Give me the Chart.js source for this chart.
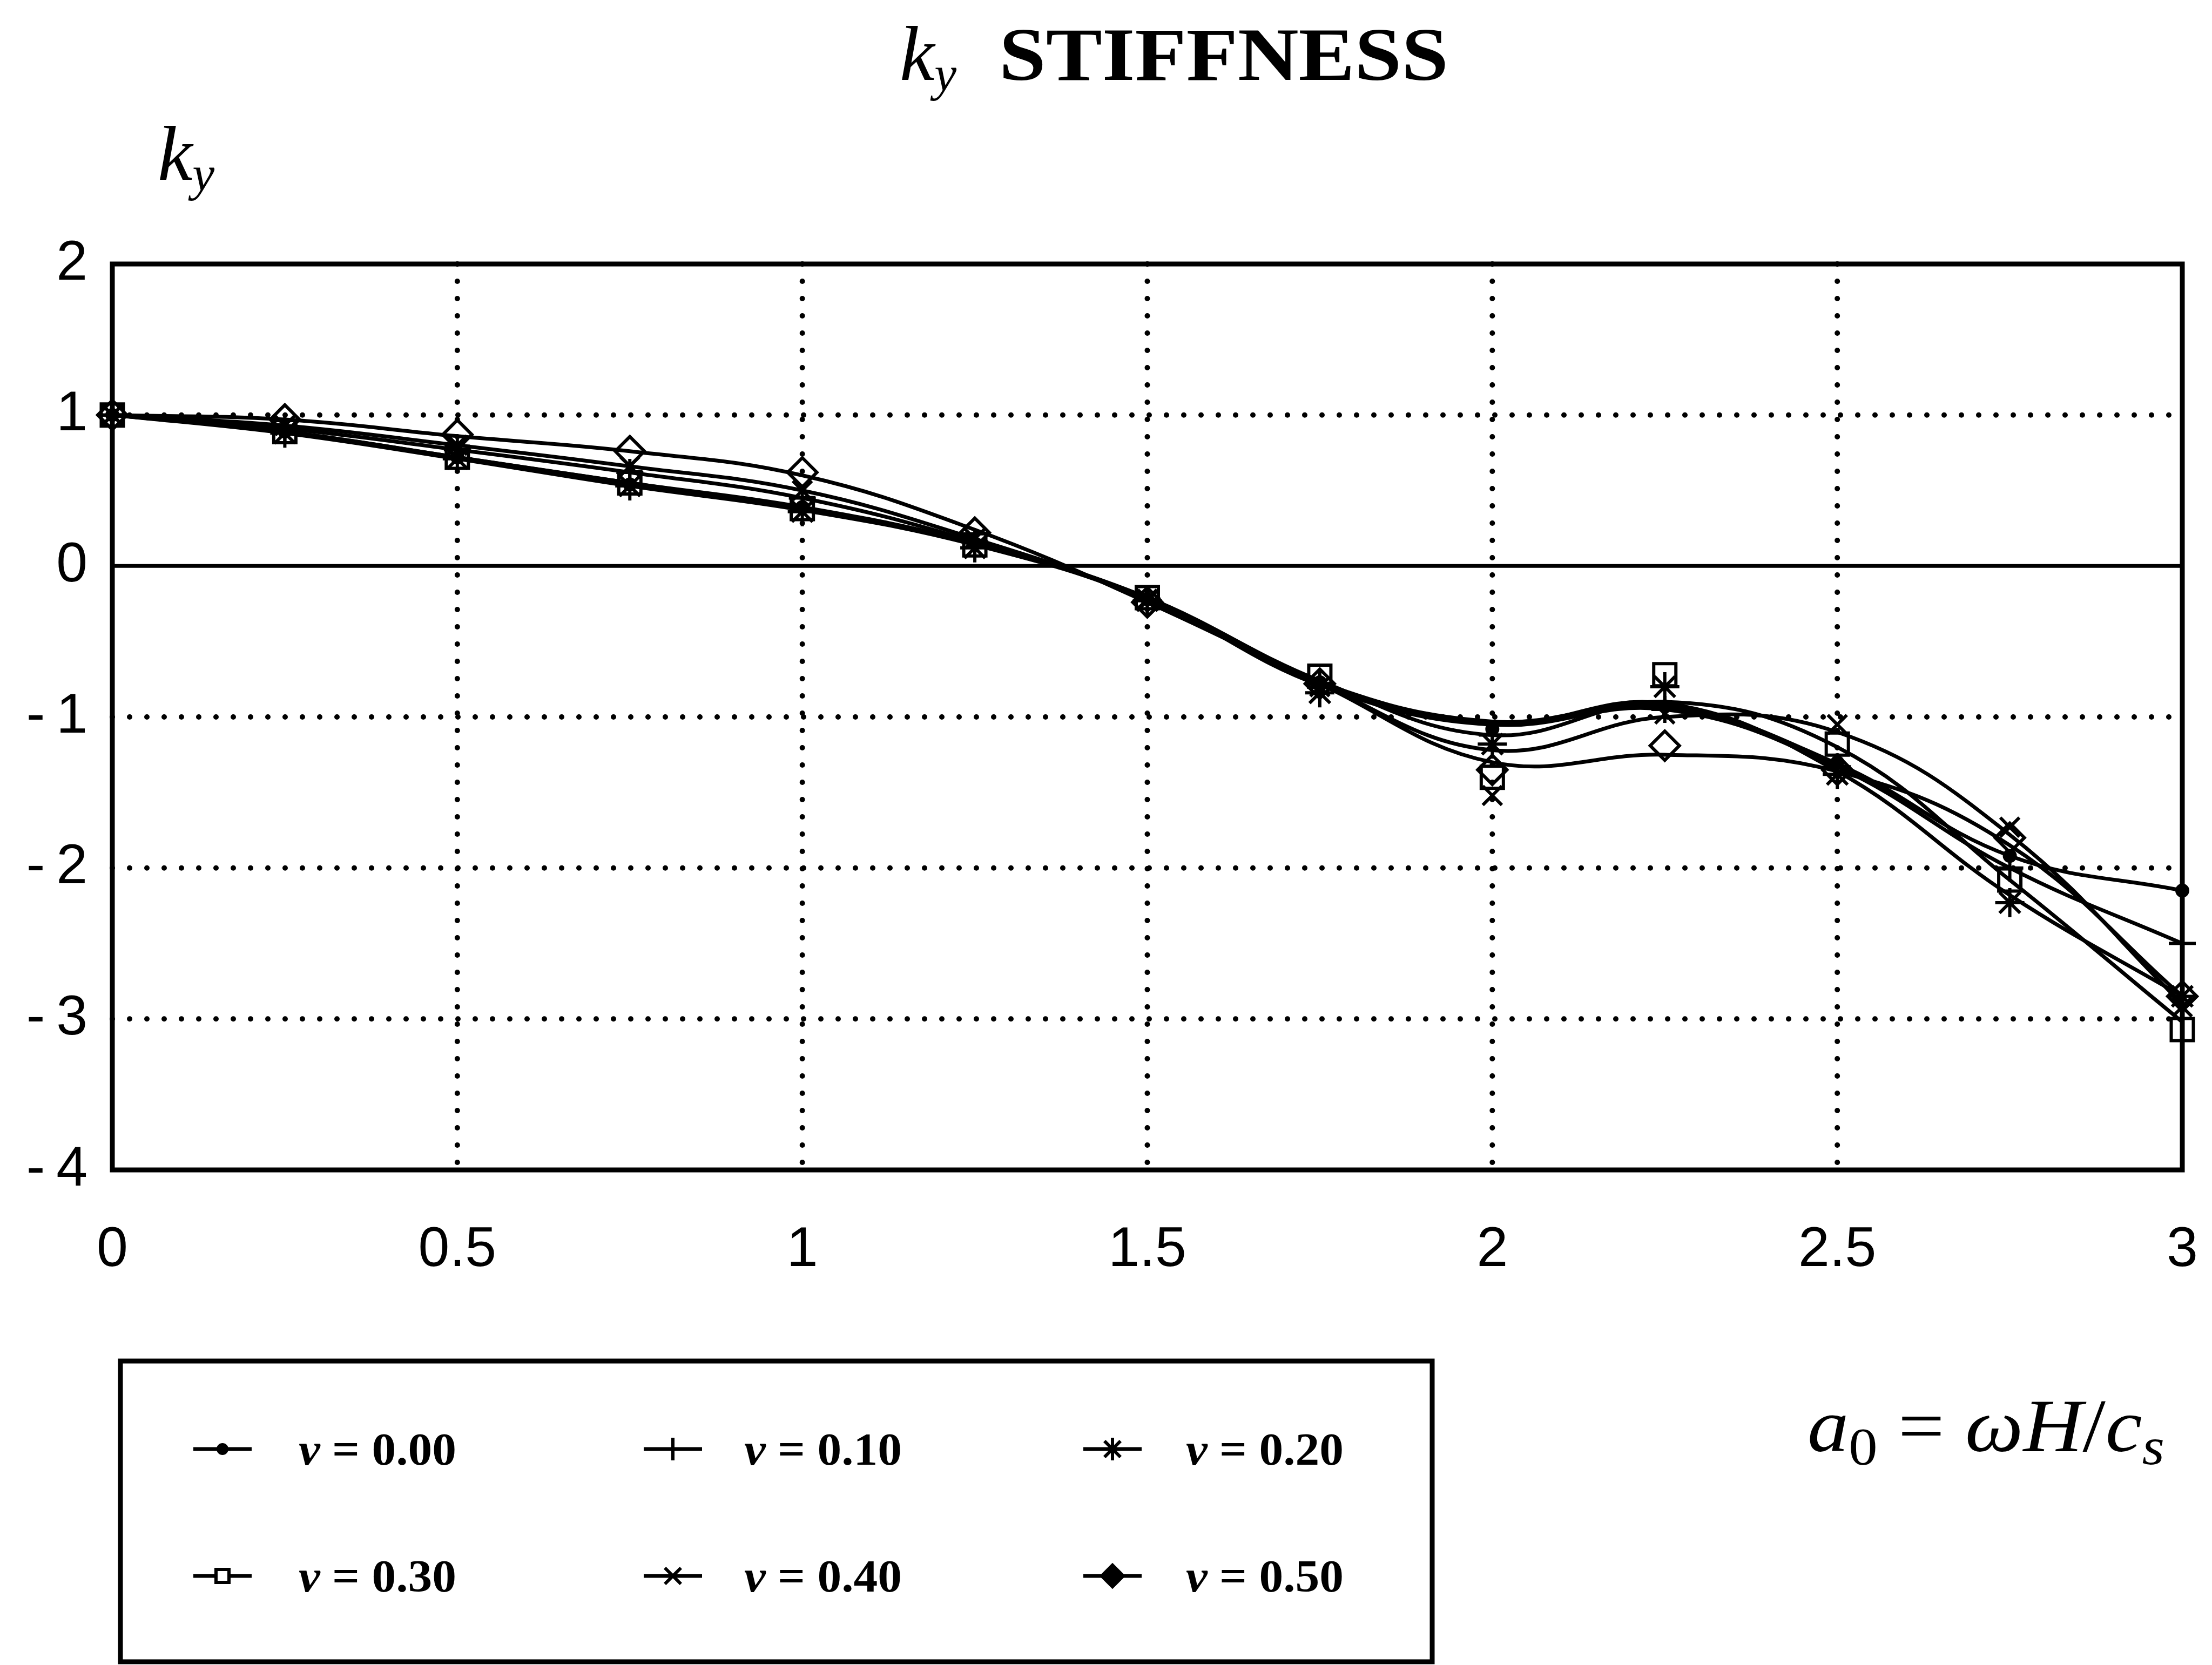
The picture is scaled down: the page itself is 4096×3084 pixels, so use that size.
<!DOCTYPE html>
<html lang="en">

<head>
    <meta charset="UTF-8">
    <title>ky stiffness</title>
    <script src="https://cdn.jsdelivr.net/npm/chart.js@4.4.1/dist/chart.umd.min.js"></script>
    <style>
        html,
        body {
            margin: 0;
            padding: 0;
            background: #fff;
        }

        #wrap {
            width: 4096px;
            height: 3084px;
        }
    </style>
</head>

<body>
    <div id="wrap">
        <canvas id="kyChart" width="4096" height="3084"></canvas>
    </div>
    <script>
        // dimensionless frequency a0
        const freqs = [0, 0.25, 0.5, 0.75, 1, 1.25, 1.5, 1.75, 2, 2.25, 2.5, 2.75, 3]

        // computed ky values (markers), one array per Poisson ratio
        const nu000Pts = [1.00, 0.89, 0.72, 0.54, 0.39, 0.15, -0.22, -0.77, -1.08, -0.93, -1.30, -1.92, -2.15]
        const nu010Pts = [1.00, 0.91, 0.77, 0.62, 0.45, 0.16, -0.22, -0.78, -1.12, -0.95, -1.33, -2.00, -2.50]
        const nu020Pts = [1.00, 0.88, 0.71, 0.53, 0.36, 0.12, -0.23, -0.84, -1.18, -0.80, -1.38, -2.23, -2.85]
        const nu030Pts = [1.00, 0.89, 0.72, 0.55, 0.38, 0.14, -0.21, -0.73, -1.40, -0.72, -1.18, -2.08, -3.07]
        const nu040Pts = [1.00, 0.93, 0.80, 0.66, 0.50, 0.18, -0.22, -0.80, -1.52, -0.98, -1.05, -1.73, -2.92]
        const nu050Pts = [1.00, 0.97, 0.87, 0.76, 0.62, 0.22, -0.24, -0.78, -1.35, -1.19, -1.35, -1.80, -2.85]

        // smoothed curves drawn through the computed values
        const nu000Fit = [1.00, 0.89, 0.72, 0.55, 0.39, 0.15, -0.21, -0.77, -1.03, -0.93, -1.31, -1.92, -2.15]
        const nu010Fit = [1.00, 0.91, 0.77, 0.62, 0.45, 0.16, -0.22, -0.78, -1.05, -0.95, -1.33, -2.00, -2.50]
        const nu020Fit = [1.00, 0.88, 0.71, 0.53, 0.37, 0.14, -0.22, -0.79, -1.05, -0.91, -1.36, -2.18, -2.85]
        const nu030Fit = [1.00, 0.89, 0.72, 0.55, 0.38, 0.15, -0.21, -0.76, -1.12, -0.90, -1.20, -2.08, -3.02]
        const nu040Fit = [1.00, 0.93, 0.80, 0.66, 0.50, 0.18, -0.22, -0.78, -1.22, -1.00, -1.10, -1.78, -2.90]
        const nu050Fit = [1.00, 0.97, 0.86, 0.76, 0.60, 0.24, -0.24, -0.78, -1.30, -1.25, -1.36, -1.85, -2.85]

        const nuLabels = ['0.00', '0.10', '0.20', '0.30', '0.40', '0.50']
        const xTickValues = [0, 0.5, 1, 1.5, 2, 2.5, 3]
        const yTickValues = [2, 1, 0, -1, -2, -3, -4]

        const pts = [nu000Pts, nu010Pts, nu020Pts, nu030Pts, nu040Pts, nu050Pts]
        const fits = [nu000Fit, nu010Fit, nu020Fit, nu030Fit, nu040Fit, nu050Fit]

        // marker per series: plot size and legend size
        const markerStyles = [
            { pointStyle: 'circle', radius: 10, legendRadius: 8, fill: '#000', legendFill: '#000' },
            { pointStyle: 'cross', radius: 25, legendRadius: 21 },
            { pointStyle: 'star', radius: 27, legendRadius: 21 },
            { pointStyle: 'rect', radius: 29, legendRadius: 17, legendFill: '#fff' },
            { pointStyle: 'crossRot', radius: 25, legendRadius: 21 },
            { pointStyle: 'rectRot', radius: 27, legendRadius: 20, legendFill: '#000' }
        ]

        const AREA = { left: 208, right: 4041, top: 489, bottom: 2167 }
        const SERIF = '"Liberation Serif", "DejaVu Serif", serif'

        function toXY(values) {
            return values.map((v, i) => ({ x: freqs[i], y: v }))
        }

        function fmtTick(v) {
            if (v < 0) return '-\u2009' + Math.abs(v)
            return String(v)
        }

        // lays out a row of text pieces (for subscripts) and squeezes it to a width
        function drawPieces(ctx, pieces, x, baseline, targetWidth) {
            let total = 0
            pieces.forEach(p => {
                ctx.font = p.font
                p.w = ctx.measureText(p.text).width
                total += p.w + (p.gap || 0)
            })
            const sx = targetWidth ? targetWidth / total : 1
            ctx.save()
            ctx.translate(x, baseline)
            ctx.scale(sx, 1)
            let cx = 0
            pieces.forEach(p => {
                ctx.font = p.font
                ctx.fillText(p.text, cx, p.dy || 0)
                cx += p.w + (p.gap || 0)
            })
            ctx.restore()
        }

        const curveSets = fits.map((f, i) => ({
            label: 'fit ' + nuLabels[i],
            data: toXY(f),
            showLine: true,
            tension: 0.4,
            borderColor: '#000',
            borderWidth: 7,
            pointRadius: 0,
            fill: false
        }))

        const markerSets = pts.map((p, i) => ({
            label: '\u03bd = ' + nuLabels[i],
            data: toXY(p),
            showLine: false,
            pointStyle: markerStyles[i].pointStyle,
            pointRadius: markerStyles[i].radius,
            pointBorderWidth: 6,
            pointBorderColor: '#000',
            pointBackgroundColor: markerStyles[i].fill || 'rgba(0,0,0,0)',
            clip: false
        }))

        const kyDecor = {
            id: 'kyDecor',
            beforeDatasetsDraw(chart) {
                const { ctx, chartArea: a, scales: { x, y } } = chart
                ctx.save()
                ctx.strokeStyle = '#000'
                // dotted grid
                ctx.lineWidth = 10
                ctx.lineCap = 'round'
                ctx.setLineDash([0, 32])
                xTickValues.slice(1, -1).forEach(v => {
                    const px = x.getPixelForValue(v)
                    ctx.beginPath()
                    ctx.moveTo(px, a.top)
                    ctx.lineTo(px, a.bottom)
                    ctx.stroke()
                })
                yTickValues.slice(1, -1).filter(v => v !== 0).forEach(v => {
                    const py = y.getPixelForValue(v)
                    ctx.beginPath()
                    ctx.moveTo(a.left, py)
                    ctx.lineTo(a.right, py)
                    ctx.stroke()
                })
                // solid zero line
                ctx.setLineDash([])
                ctx.lineCap = 'butt'
                ctx.lineWidth = 7
                const y0 = y.getPixelForValue(0)
                ctx.beginPath()
                ctx.moveTo(a.left, y0)
                ctx.lineTo(a.right, y0)
                ctx.stroke()
                ctx.restore()
            },
            afterDatasetsDraw(chart) {
                const { ctx, chartArea: a } = chart
                ctx.save()
                ctx.strokeStyle = '#000'
                ctx.lineWidth = 9
                ctx.strokeRect(a.left, a.top, a.right - a.left, a.bottom - a.top)
                ctx.restore()
            },
            afterDraw(chart) {
                const ctx = chart.ctx
                ctx.save()
                ctx.fillStyle = '#000'
                ctx.textAlign = 'left'
                ctx.textBaseline = 'alphabetic'

                // title
                drawPieces(ctx, [
                    { text: 'k', font: 'italic 145px ' + SERIF },
                    { text: 'y', font: 'italic 92px ' + SERIF, dy: 20 }
                ], 1666, 148)
                drawPieces(ctx, [{ text: 'STIFFNESS', font: 'bold 140px ' + SERIF }], 1850, 148, 832)

                // y axis label
                drawPieces(ctx, [
                    { text: 'k', font: 'italic 145px ' + SERIF },
                    { text: 'y', font: 'italic 92px ' + SERIF, dy: 20 }
                ], 292, 333)

                // x axis label
                drawPieces(ctx, [
                    { text: 'a', font: 'italic 140px ' + SERIF },
                    { text: '0', font: '98px ' + SERIF, dy: 24 },
                    { text: ' = ', font: '140px ' + SERIF },
                    { text: '\u03c9', font: 'italic 140px ' + SERIF },
                    { text: 'H', font: 'italic 140px ' + SERIF },
                    { text: '/', font: '140px ' + SERIF },
                    { text: 'c', font: 'italic 140px ' + SERIF },
                    { text: 's', font: 'italic 98px ' + SERIF, dy: 24 }
                ], 3347, 2688, 661)

                // legend box
                ctx.strokeStyle = '#000'
                ctx.lineWidth = 9
                ctx.strokeRect(223, 2521, 2652 - 223, 3078 - 2521)

                const lineCenters = [412, 1246, 2060]
                const textStarts = [553, 1378, 2196]
                const rows = [2684, 2919]
                nuLabels.forEach((lab, i) => {
                    const col = i % 3
                    const ry = rows[Math.floor(i / 3)]
                    const cx = lineCenters[col]
                    const m = markerStyles[i]
                    ctx.lineWidth = 7
                    ctx.beginPath()
                    ctx.moveTo(cx - 54, ry)
                    ctx.lineTo(cx + 54, ry)
                    ctx.stroke()
                    ctx.lineWidth = 6
                    ctx.fillStyle = m.legendFill || 'rgba(0,0,0,0)'
                    Chart.helpers.drawPoint(ctx, {
                        pointStyle: m.pointStyle,
                        radius: m.legendRadius,
                        rotation: 0,
                        borderWidth: 6
                    }, cx, ry)
                    ctx.fillStyle = '#000'
                    drawPieces(ctx, [
                        { text: '\u03bd', font: 'italic bold 84px ' + SERIF },
                        { text: ' = ' + lab, font: 'bold 84px ' + SERIF }
                    ], textStarts[col], ry + 29, 292)
                })
                ctx.restore()
            }
        }

        const tickFont = { family: '"Liberation Sans", Arial, sans-serif', size: 104 }

        const kyChart = new Chart(document.getElementById('kyChart'), {
            type: 'scatter',
            data: { datasets: curveSets.concat(markerSets) },
            options: {
                responsive: false,
                devicePixelRatio: 1,
                animation: false,
                layout: {
                    padding: { left: 0, top: AREA.top, right: 4096 - AREA.right, bottom: 3084 - AREA.bottom - 200 }
                },
                plugins: {
                    legend: { display: false },
                    tooltip: { enabled: false }
                },
                scales: {
                    x: {
                        type: 'linear',
                        min: 0,
                        max: 3,
                        afterBuildTicks: s => { s.ticks = xTickValues.map(v => ({ value: v })) },
                        afterFit: s => { s.height = 200 },
                        // invisible tick marks push the labels down without widening the side padding
                        grid: { display: true, drawOnChartArea: false, drawTicks: true, tickLength: 87, color: 'rgba(0,0,0,0)', tickColor: 'rgba(0,0,0,0)' },
                        border: { display: false },
                        ticks: { color: '#000', font: tickFont, padding: 0, maxRotation: 0, autoSkip: false, callback: fmtTick }
                    },
                    y: {
                        type: 'linear',
                        min: -4,
                        max: 2,
                        afterBuildTicks: s => { s.ticks = yTickValues.map(v => ({ value: v })) },
                        afterFit: s => { s.width = AREA.left },
                        grid: { display: false },
                        border: { display: false },
                        ticks: { color: '#000', font: tickFont, padding: 38, autoSkip: false, callback: fmtTick }
                    }
                }
            },
            plugins: [kyDecor]
        })
    </script>
</body>

</html>
